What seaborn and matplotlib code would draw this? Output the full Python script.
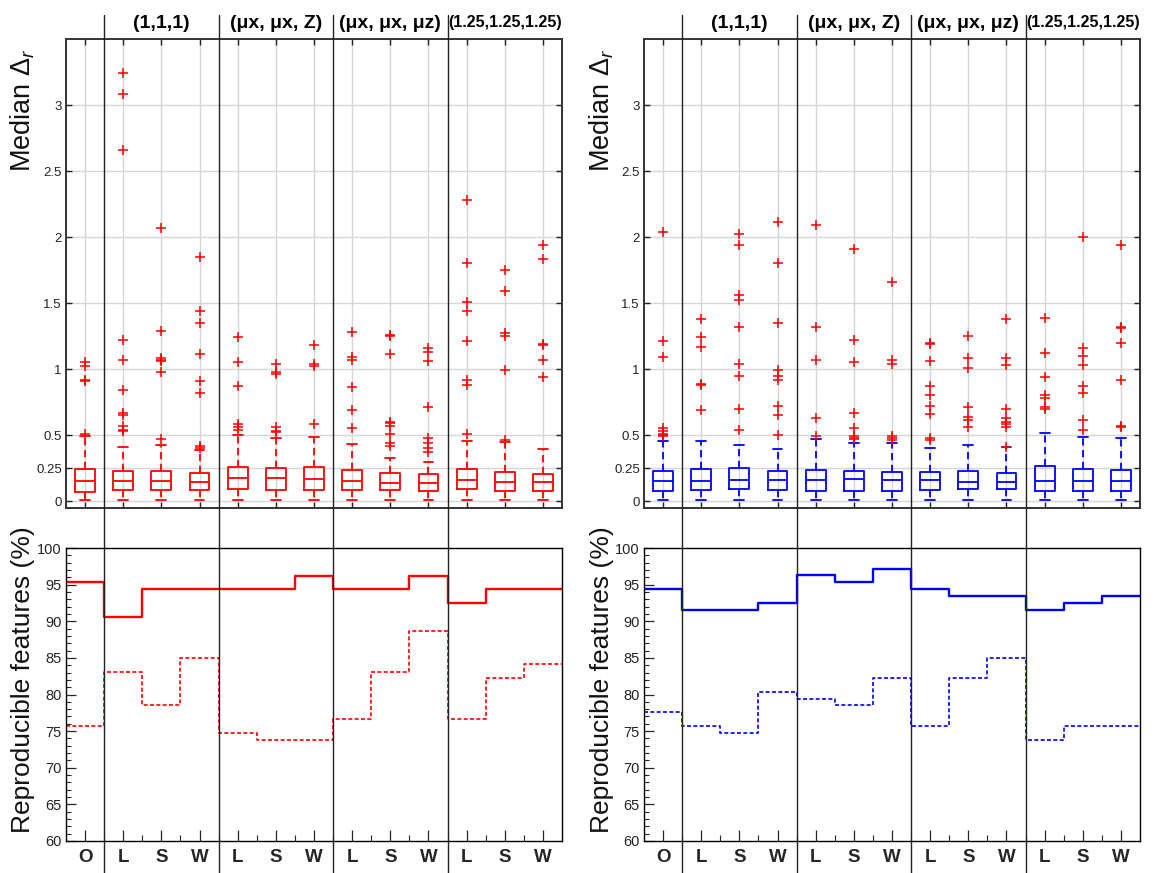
import numpy as np
import matplotlib
matplotlib.use("Agg")
import matplotlib.pyplot as plt
import matplotlib.transforms as mtransforms
from matplotlib.lines import Line2D
from matplotlib import font_manager
from matplotlib.ticker import FixedLocator, MultipleLocator
import seaborn as sns

# ---------------- data ----------------
categories = ["O", "L", "S", "W", "L", "S", "W", "L", "S", "W", "L", "S", "W"]
group_labels = ["(1,1,1)", "(μx, μx, Z)", "(μx, μx, μz)", "(1.25,1.25,1.25)"]
group_members = [[1, 2, 3], [4, 5, 6], [7, 8, 9], [10, 11, 12]]

top_yticks = [0, 0.25, 0.5, 1, 1.5, 2, 2.5, 3]
top_yticklabels = ["0", "0.25", "0.5", "1", "1.5", "2", "2.5", "3"]

# red (left) box statistics
red_med = [0.150, 0.153, 0.153, 0.145, 0.171, 0.171, 0.170, 0.150, 0.139, 0.135, 0.162, 0.145, 0.147]
red_q1 = [0.069, 0.082, 0.082, 0.082, 0.089, 0.087, 0.084, 0.081, 0.081, 0.074, 0.091, 0.074, 0.076]
red_q3 = [0.245, 0.230, 0.230, 0.212, 0.255, 0.253, 0.256, 0.236, 0.213, 0.206, 0.246, 0.223, 0.208]
red_lo = [0.008, 0.008, 0.008, 0.008, 0.008, 0.008, 0.008, 0.005, 0.005, 0.005, 0.005, 0.005, 0.005]
red_hi = [0.490, 0.408, 0.423, 0.385, 0.500, 0.477, 0.487, 0.434, 0.325, 0.298, 0.452, 0.444, 0.396]
red_fliers = [
    [0.51, 0.91, 0.92, 1.02, 1.05],
    [0.53, 0.54, 0.57, 0.65, 0.67, 0.84, 1.07, 1.22, 2.66, 3.08, 3.24],
    [0.47, 0.98, 1.06, 1.07, 1.08, 1.29, 2.07],
    [0.40, 0.42, 0.82, 0.91, 1.11, 1.35, 1.44, 1.85],
    [0.54, 0.56, 0.58, 0.87, 1.05, 1.24],
    [0.52, 0.53, 0.56, 0.96, 0.98, 1.04],
    [0.58, 1.02, 1.04, 1.18],
    [0.55, 0.69, 0.86, 1.07, 1.09, 1.28],
    [0.42, 0.44, 0.51, 0.57, 0.59, 0.60, 1.11, 1.25, 1.26],
    [0.37, 0.40, 0.44, 0.48, 0.71, 1.06, 1.13, 1.16],
    [0.51, 0.88, 0.92, 1.21, 1.44, 1.51, 1.80, 2.28],
    [0.46, 0.99, 1.25, 1.27, 1.59, 1.75],
    [0.94, 1.07, 1.18, 1.19, 1.83, 1.94],
]

# blue (right) box statistics
blue_med = [0.154, 0.152, 0.157, 0.162, 0.157, 0.164, 0.157, 0.156, 0.145, 0.145, 0.152, 0.152, 0.149]
blue_q1 = [0.073, 0.080, 0.088, 0.080, 0.078, 0.076, 0.073, 0.082, 0.090, 0.088, 0.073, 0.078, 0.073]
blue_q3 = [0.230, 0.240, 0.250, 0.227, 0.235, 0.227, 0.223, 0.220, 0.226, 0.215, 0.262, 0.240, 0.233]
blue_lo = [0.005] * 13
blue_hi = [0.457, 0.452, 0.424, 0.397, 0.472, 0.440, 0.440, 0.400, 0.424, 0.406, 0.513, 0.487, 0.475]
blue_fliers = [
    [0.49, 0.50, 0.51, 0.53, 0.55, 1.09, 1.21, 2.04],
    [0.69, 0.88, 0.89, 1.17, 1.24, 1.38],
    [0.54, 0.70, 0.95, 1.04, 1.32, 1.52, 1.56, 1.94, 2.02],
    [0.50, 0.65, 0.72, 0.92, 0.95, 0.99, 1.35, 1.80, 2.11],
    [0.49, 0.63, 1.07, 1.32, 2.09],
    [0.47, 0.48, 0.49, 0.55, 0.67, 1.05, 1.22, 1.91],
    [0.46, 0.48, 0.49, 1.04, 1.07, 1.66],
    [0.46, 0.48, 0.66, 0.72, 0.80, 0.87, 1.06, 1.19, 1.20],
    [0.56, 0.61, 0.64, 0.71, 1.01, 1.08, 1.25],
    [0.41, 0.56, 0.58, 0.60, 0.63, 0.70, 1.03, 1.08, 1.38],
    [0.70, 0.71, 0.78, 0.80, 0.94, 1.12, 1.39],
    [0.54, 0.61, 0.82, 0.87, 1.03, 1.10, 1.16, 2.00],
    [0.56, 0.57, 0.92, 1.20, 1.31, 1.32, 1.94],
]

# reproducible features (%)
red_solid = [95.3, 90.6, 94.4, 94.4, 94.4, 94.4, 96.2, 94.4, 94.4, 96.2, 92.5, 94.4, 94.4]
red_dashed = [75.7, 83.1, 78.5, 85.0, 74.8, 73.8, 73.8, 76.6, 83.1, 88.7, 76.6, 82.2, 84.1]
blue_solid = [94.4, 91.6, 91.6, 92.5, 96.3, 95.3, 97.2, 94.4, 93.5, 93.5, 91.6, 92.5, 93.5]
blue_dashed = [77.6, 75.7, 74.8, 80.4, 79.4, 78.5, 82.2, 75.7, 82.2, 85.0, 73.8, 75.7, 75.7]

# ---------------- style ----------------
sns.set_theme(style="white")
installed = {f.name for f in font_manager.fontManager.ttflist}
base_font = "Liberation Sans" if "Liberation Sans" in installed else "DejaVu Sans"
narrow_font = "Liberation Sans Narrow" if "Liberation Sans Narrow" in installed else base_font
plt.rcParams["font.family"] = [base_font, "DejaVu Sans"]
plt.rcParams["mathtext.fontset"] = "custom"
plt.rcParams["mathtext.rm"] = base_font
plt.rcParams["mathtext.it"] = base_font + ":italic"

W, H = 1157, 873
fig = plt.figure(figsize=(W / 100, H / 100), dpi=100)
fig.patch.set_facecolor("white")

n = len(categories)
pos = np.arange(n)
edges = np.arange(n + 1) - 0.5
separators = [g[0] - 0.5 for g in group_members]

panels = [
    dict(x0=66, color="#ff0000", med=red_med, q1=red_q1, q3=red_q3, lo=red_lo, hi=red_hi,
         fl=red_fliers, solid=red_solid, dashed=red_dashed, lab_x=23),
    dict(x0=644, color="#0000ff", med=blue_med, q1=blue_q1, q3=blue_q3, lo=blue_lo, hi=blue_hi,
         fl=blue_fliers, solid=blue_solid, dashed=blue_dashed, lab_x=602),
]

aw = 496
for p in panels:
    col = p["color"]
    ax_t = fig.add_axes([p["x0"] / W, 1 - 508 / H, aw / W, 469 / H])
    ax_b = fig.add_axes([p["x0"] / W, 1 - 841 / H, aw / W, 293 / H])

    # ---- boxplots ----
    stats = []
    for i in range(n):
        stats.append(dict(med=p["med"][i], q1=p["q1"][i], q3=p["q3"][i],
                          whislo=p["lo"][i], whishi=p["hi"][i],
                          fliers=np.array(p["fl"][i])))
    ax_t.bxp(stats, positions=pos, widths=0.52, manage_ticks=False,
             boxprops=dict(color=col, lw=1.3),
             whiskerprops=dict(color=col, lw=1.3, linestyle=(0, (4, 2.5))),
             capprops=dict(color=col, lw=1.3),
             medianprops=dict(color=col, lw=1.3),
             flierprops=dict(marker="+", markeredgecolor="#ff0000", markersize=7,
                             markeredgewidth=1.1, linestyle="none"))
    ax_t.set_xlim(-0.5, n - 0.5)
    ax_t.set_ylim(-0.053, 3.5)
    ax_t.yaxis.set_major_locator(FixedLocator(top_yticks))
    ax_t.set_yticklabels(top_yticklabels)
    ax_t.xaxis.set_major_locator(FixedLocator(pos))
    ax_t.set_xticklabels([])
    ax_t.grid(True, color="#d6d6d6", lw=1.0)
    ax_t.set_axisbelow(True)
    ax_t.tick_params(axis="both", direction="in", length=4, width=1.0, color="#222222",
                     top=True, right=True, bottom=True, left=True, labelsize=9.5,
                     labelcolor="#222222", pad=3)
    for s in ax_t.spines.values():
        s.set_color("#333333")
        s.set_linewidth(1.4)
    fig.text(p["lab_x"] / W, 1 - 110 / H, "Median $\\Delta_r$", rotation=90,
             ha="center", va="center", fontsize=19.5, color="#111111")

    # ---- step lines ----
    xs = np.repeat(edges, 2)[1:-1]
    sns.lineplot(x=xs, y=np.repeat(p["solid"], 2), sort=False, estimator=None,
                 ax=ax_b, color=col, lw=1.7)
    sns.lineplot(x=xs, y=np.repeat(p["dashed"], 2), sort=False, estimator=None,
                 ax=ax_b, color=col, lw=1.2)
    ax_b.get_lines()[-1].set_dashes((2.4, 1.4))
    ax_b.set_xlim(-0.5, n - 0.5)
    ax_b.set_ylim(60, 100)
    ax_b.yaxis.set_major_locator(MultipleLocator(5))
    ax_b.yaxis.set_minor_locator(MultipleLocator(1))
    ax_b.xaxis.set_major_locator(FixedLocator(pos))
    ax_b.xaxis.set_minor_locator(FixedLocator(edges[1:-1]))
    ax_b.set_xticklabels(categories, fontweight="bold", fontsize=13.5, family=narrow_font)
    ax_b.tick_params(axis="y", which="major", direction="in", length=7, width=0.9,
                     left=True, right=False, labelsize=10.5, pad=3, labelcolor="#222222")
    ax_b.tick_params(axis="y", which="minor", direction="in", length=3.5, width=0.8,
                     left=True, right=False)
    ax_b.tick_params(axis="x", which="major", direction="in", length=8, width=0.9,
                     bottom=True, top=False, pad=6)
    ax_b.tick_params(axis="x", which="minor", direction="in", length=4, width=0.8,
                     bottom=True, top=False)
    ax_b.set_xlabel("")
    ax_b.set_ylabel("")
    for s in ax_b.spines.values():
        s.set_color("black")
        s.set_linewidth(1.0)
    fig.text(p["lab_x"] / W, 1 - 680 / H, "Reproducible features (%)", rotation=90,
             ha="center", va="center", fontsize=19, color="#111111")

    # ---- group separators and headers ----
    blend = mtransforms.blended_transform_factory(ax_t.transData, fig.transFigure)
    for sx in separators:
        fig.add_artist(Line2D([sx, sx], [0, 1 - 15 / H], transform=blend,
                              color="#222222", lw=1.0, clip_on=False))
    for lab, members in zip(group_labels, group_members):
        cx = float(np.mean(members))
        fs = 11.5 if len(lab) > 12 else 14
        fig.text(cx, 1 - 23 / H, lab, transform=blend, ha="center", va="center",
                 fontsize=fs, fontweight="bold", family=[narrow_font, "DejaVu Sans"],
                 color="black")

fig.savefig("out.png", dpi=100, facecolor="white")
